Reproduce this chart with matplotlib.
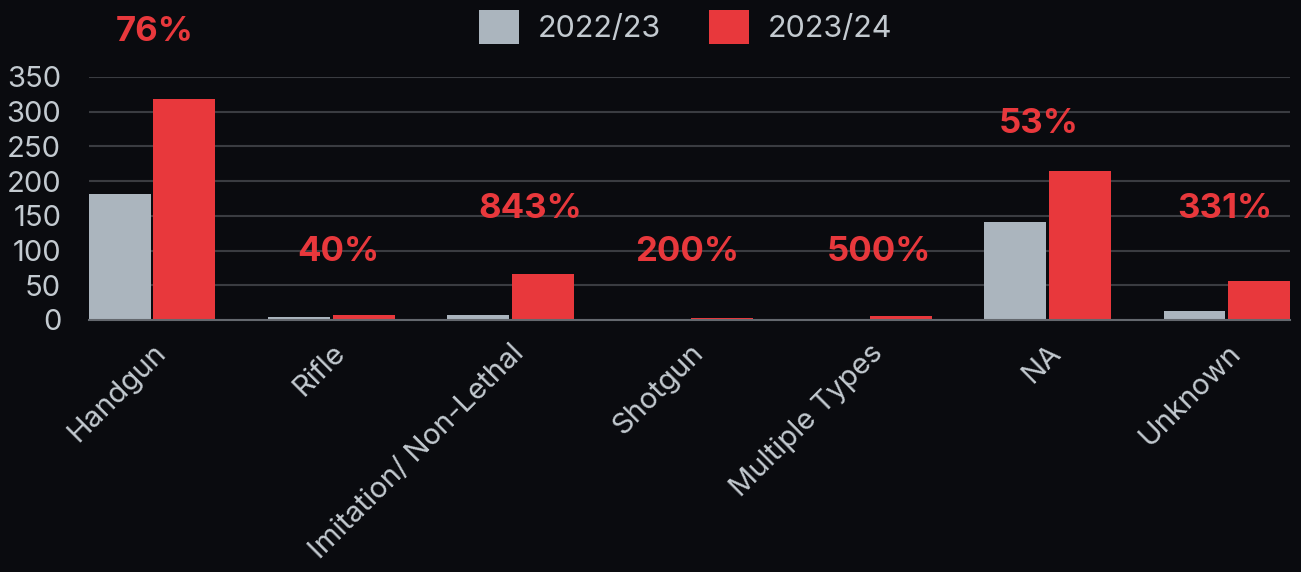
import matplotlib.pyplot as plt
import numpy as np

# weapon types and counts per year
categories = ['Handgun', 'Rifle', 'Imitation/ Non-Lethal', 'Shotgun',
              'Multiple Types', 'NA', 'Unknown']
y2022 = [181, 5, 7, 1, 1, 141, 13]
y2023 = [318, 7, 66, 3, 6, 215, 56]
pct_labels = ['76%', '40%', '843%', '200%', '500%', '53%', '331%']

# where the % labels sit (hand placed in the original)
label_y = [415, 98, 160, 98, 98, 282, 160]          # data units
label_dx = [2, 7, 20, -2, 10, -9, -2]               # pixels

BG = '#0a0b0f'
GREY = '#abb5be'
RED = '#e8383c'
TXT = '#c3cad0'

plt.rcParams['font.family'] = ['Inter', 'DejaVu Sans']

fig = plt.figure(figsize=(13.01, 5.72), dpi=100, facecolor=BG)
ax = fig.add_axes([0.0684, 0.4406, 0.9231, 0.4248])
ax.set_facecolor(BG)

x = np.arange(len(categories))
w = 0.346
off = 0.18
ax.bar(x - off, y2022, width=w, color=GREY, label='2022/23', zorder=3)
ax.bar(x + off, y2023, width=w, color=RED, label='2023/24', zorder=3)

for i, lab in enumerate(pct_labels):
    ax.annotate(lab, (x[i], label_y[i]), xytext=(label_dx[i] * 0.72, 0),
                textcoords='offset points', ha='center', va='center',
                color=RED, fontsize=25, fontweight='bold', annotation_clip=False)

ax.set_xlim(-0.353, len(categories) - 1 + 0.353)
ax.set_ylim(0, 350)
ax.set_yticks(range(0, 351, 50))
ax.set_xticks(x)
ax.set_xticklabels(categories, rotation=45, ha='right', rotation_mode='anchor')
ax.grid(axis='y', color='#3a3c41', linewidth=1.5, zorder=0)
ax.tick_params(axis='y', length=0, pad=20, labelsize=21, labelcolor=TXT)
ax.tick_params(axis='x', length=0, pad=14, labelsize=21, labelcolor=TXT)

for s in ['top', 'right', 'left']:
    ax.spines[s].set_visible(False)
ax.spines['bottom'].set_color('#64686e')
ax.spines['bottom'].set_linewidth(1.5)
ax.spines['bottom'].set_zorder(4)

fig.legend(loc='upper center', bbox_to_anchor=(0.527, 1.031), ncol=2,
           frameon=False, fontsize=22, labelcolor=TXT,
           handlelength=1.3, handleheight=1.35, handletextpad=0.6,
           columnspacing=1.6)

plt.savefig('out.png', dpi=100, facecolor=BG)
